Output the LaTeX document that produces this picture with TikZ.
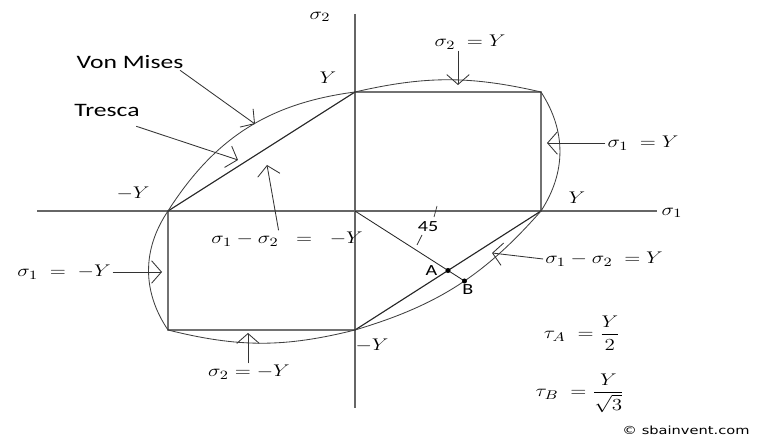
\documentclass[tikz,border=0pt]{standalone}
\usepackage{amsmath}
\usepackage{fontspec}
\setsansfont{Carlito}
\newfontfamily\webfont{DejaVu Sans}
\usetikzlibrary{arrows.meta, positioning, calc, intersections}

\tikzset{
  axis/.style={black!60, line width=0.9pt},
  tresca/.style={black!85, line width=0.8pt},
  mises/.style={black!75, line width=0.6pt},
  pointer/.style={black!80, line width=0.6pt, -{Straight Barb[length=7pt,width=16pt]}},
  eqn/.style={font=\fontsize{13}{15}\selectfont, inner sep=1pt, xscale=1.25},
  word/.style={font=\sffamily\fontsize{13.5}{16}\selectfont, inner sep=1pt, xscale=1.35},
  small/.style={font=\sffamily\fontsize{11}{13}\selectfont, inner sep=1pt, xscale=1.3},
}

\begin{document}
\begin{tikzpicture}[x=0.025cm, y=-0.025cm]
  \useasboundingbox (0,0) rectangle (759,438);

  % origin and Tresca corners
  \coordinate (O) at (355,211);
  \coordinate (T) at (355,92);
  \coordinate (TR) at (541,92);
  \coordinate (R) at (541,211);
  \coordinate (Bt) at (355,330);
  \coordinate (BL) at (168,330);
  \coordinate (L) at (168,211);

  % axes
  \coordinate (x0) at (37,211);
  \coordinate (x1) at (657,211);
  \coordinate (y0) at (355,14);
  \coordinate (y1) at (355,408);
  \draw[axis] (x0) -- (x1);
  \draw[axis] (y0) -- (y1);
  \node[eqn] (s1) at (672,213) {$\sigma_1$};
  \node[eqn] (s2) at (320,17) {$\sigma_2$};

  % Tresca hexagon and von Mises curve
  \draw[tresca] (T) -- (TR) -- (R) -- (Bt) -- (BL) -- (L) -- cycle;
  \draw[mises, name path=vm] (T) to[bend left=13] (TR) to[bend left=33] (R)
    to[bend left=16] (Bt) to[bend left=14] (BL) to[bend left=34] (L)
    to[bend left=25] (T);

  % intercepts
  \node[eqn] (yT) at (328,78) {$Y$};
  \node[eqn] (yL) at (133,193) {$-Y$};
  \node[eqn] (yR) at (577,198) {$Y$};
  \node[eqn] (yB) at (372,345) {$-Y$};

  % pure shear line, points A and B
  \coordinate (A) at ($(R)!0.5!(Bt)$);
  \path[name path=ray] (O) -- ($(O)!1.6!(A)$);
  \path[name intersections={of=vm and ray, by=B}];
  \draw[tresca, line width=0.6pt] (O) -- (B);
  \fill (A) circle[radius=1.8pt];
  \fill (B) circle[radius=1.8pt];
  \node[small, left=6pt of A] (la) {A};
  \node[small, below right=1pt and -3pt of B] (lb) {B};
  \draw[black!80, line width=0.5pt] (437,206) -- (434,217);
  \draw[black!80, line width=0.5pt] (422,235) -- (417,245);
  \node[small] (ang) at (428,227) {45};

  % curve names
  \node[word] (vm) at (130,62) {Von Mises};
  \coordinate (vmtip) at (255,124);
  \draw[pointer] ([xshift=-4pt]vm.south east) -- (vmtip);
  \node[word] (tr) at (107,110) {Tresca};
  \coordinate (trtip) at (238,160);
  \draw[pointer] ([shift={(-4pt,-6pt)}]tr.south east) -- (trtip);

  % side conditions
  \node[eqn] (e1) at (470,42) {$\sigma_2 \;= Y$};
  \coordinate (e1tip) at (458,85);
  \draw[pointer] (e1.south -| e1tip) -- (e1tip);
  \node[eqn] (e2) at (643,143) {$\sigma_1 \;= Y$};
  \coordinate (e2tip) at (547,143);
  \draw[pointer] (e2.west) -- (e2tip);
  \node[eqn] (e3) at (287,239) {$\sigma_1 - \sigma_2 \;\;=\;\; -Y$};
  \coordinate (e3tip) at (267,165);
  \draw[pointer] ([xshift=-6pt]e3.north) -- (e3tip);
  \node[eqn] (e4) at (64,272) {$\sigma_1 \;=\; -Y$};
  \coordinate (e4tip) at (162,272);
  \draw[pointer] (e4.east) -- (e4tip);
  \node[eqn] (e5) at (249,372) {$\sigma_2 = -Y$};
  \coordinate (e5tip) at (248,333);
  \draw[pointer] (e5.north -| e5tip) -- (e5tip);
  \node[eqn] (e6) at (604,259) {$\sigma_1 - \sigma_2 \;= Y$};
  \coordinate (e6tip) at (492,253);
  \draw[pointer] (e6.west) -- (e6tip);

  % shear stresses
  \node[eqn, inner sep=0pt] (tauA) at (582,333) {$\tau_A \;= \dfrac{Y}{2}$};
  \node[eqn, inner sep=0pt] (tauB) at (580,393) {$\tau_B \;= \dfrac{Y}{\sqrt{3}}$};

  \node[font=\webfont\fontsize{8}{10}\selectfont, inner sep=1pt, xscale=1.3] (credit) at (686,430) {© sbainvent.com};
\end{tikzpicture}
\end{document}
